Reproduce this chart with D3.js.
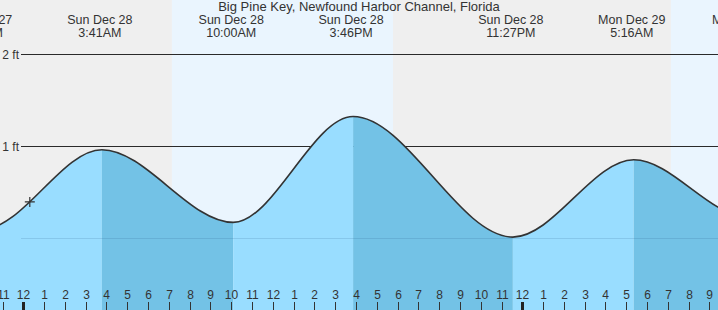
<!DOCTYPE html>
<html><head><meta charset="utf-8">
<script src="https://cdn.jsdelivr.net/npm/d3@7"></script>
<style>
html,body{margin:0;padding:0;background:#fff;}
svg{display:block;font-family:"Liberation Sans",Arial,Helvetica,sans-serif;}
</style></head>
<body><svg id="c" width="718" height="310"></svg>
<script>
// ---- data ----
const chartTitle = "Big Pine Key, Newfound Harbor Channel, Florida";
const tideTimes = ["2025-12-27T21:59","2025-12-28T03:41","2025-12-28T10:00","2025-12-28T15:46","2025-12-28T23:27","2025-12-29T05:16","2025-12-29T10:45"];
const tideHeights = [0.10, 0.96, 0.17, 1.32, 0.01, 0.85, 0.23];
const tideDateLabels = ["Sat Dec 27","Sun Dec 28","Sun Dec 28","Sun Dec 28","Sun Dec 28","Mon Dec 29","Mon Dec 29"];
const tideTimeLabels = ["9:59PM","3:41AM","10:00AM","3:46PM","11:27PM","5:16AM","10:45AM"];
const sunTimes = ["2025-12-28T07:03","2025-12-28T17:41","2025-12-29T07:03"]; // rise, set, rise
const yTickValues = [0, 1, 2];
const yTickLabels = ["0 ft","1 ft","2 ft"];
const viewStart = "2025-12-27T22:47";
const viewEnd = "2025-12-29T09:19";
const nowTime = "2025-12-28T00:13";

// ---- setup ----
const W = 718, H = 310;
const parse = d3.timeParse("%Y-%m-%dT%H:%M");
const tides = tideTimes.map((t,i)=>({t:parse(t), h:tideHeights[i], d:tideDateLabels[i], l:tideTimeLabels[i]}));
const sun = sunTimes.map(parse);
const x = d3.scaleTime().domain([parse(viewStart), parse(viewEnd)]).range([0, W]);
const y = d3.scaleLinear().domain([0, 2]).range([238, 54]);
const svg = d3.select("#c");
const textCol = "#333";

// cosine-like curve: zero slope at each extreme
class TideCurve {
  constructor(ctx){ this._context = ctx; }
  areaStart(){ this._line = 0; }
  areaEnd(){ this._line = NaN; }
  lineStart(){ this._point = 0; }
  lineEnd(){ if (this._line || (this._line !== 0 && this._point === 1)) this._context.closePath(); this._line = 1 - this._line; }
  point(px, py){
    px = +px; py = +py;
    if (this._point === 0) { this._point = 1; this._line ? this._context.lineTo(px, py) : this._context.moveTo(px, py); }
    else { this._point = 2; const dx = (px - this._x0) / 3; this._context.bezierCurveTo(this._x0 + dx, this._y0, px - dx, py, px, py); }
    this._x0 = px; this._y0 = py;
  }
}
const tideCurve = ctx => new TideCurve(ctx);

// background: night gray, day light blue
svg.append("rect").attr("x",0).attr("y",0).attr("width",W).attr("height",H).attr("fill","#efefef");
const dayBands = [[sun[0], sun[1]], [sun[2], parse(viewEnd)]];
svg.selectAll("rect.day").data(dayBands).join("rect").attr("class","day")
  .attr("x", d=>x(d[0])).attr("y",0).attr("width", d=>x(d[1])-x(d[0])).attr("height",H)
  .attr("fill","#eaf5fe");

// title
svg.append("text").attr("x", W/2).attr("y", 11).attr("text-anchor","middle")
  .attr("font-size", 13).attr("fill", textCol).text(chartTitle);

// tide labels
const lab = svg.append("g").attr("transform","translate(-2,0)");
tides.forEach(d=>{
  lab.append("text").attr("x", x(d.t)).attr("y", 24).attr("text-anchor","middle")
    .attr("font-size",12.5).attr("fill",textCol).text(d.d);
  lab.append("text").attr("x", x(d.t)).attr("y", 37).attr("text-anchor","middle")
    .attr("font-size",12.5).attr("fill",textCol).text(d.l);
});

// grid lines 1ft and 2ft
yTickValues.forEach((v,i)=>{
  svg.append("text").attr("x", 19).attr("y", y(v)+4.5).attr("text-anchor","end")
    .attr("font-size",12).attr("fill",textCol).text(yTickLabels[i]);
  if (v > 0) svg.append("line").attr("x1", 21).attr("x2", W).attr("y1", y(v)+0.5).attr("y2", y(v)+0.5)
    .attr("stroke","#2a2a2a").attr("stroke-width",1);
});

// fills: rising (light) and falling (dark) segments
const area = d3.area().x(d=>x(d.t)).y0(H).y1(d=>y(d.h)).curve(tideCurve);
for (let i = 0; i < tides.length-1; i++) {
  const rising = tides[i+1].h > tides[i].h;
  svg.append("path").datum([tides[i], tides[i+1]]).attr("d", area)
    .attr("fill", rising ? "#99ddff" : "#73c2e6");
}

// 0 ft line over fill
svg.append("line").attr("x1", 21).attr("x2", W).attr("y1", y(0)+0.5).attr("y2", y(0)+0.5)
  .attr("stroke","rgba(40,90,130,0.16)").attr("stroke-width",1);

// tide curve
const line = d3.line().x(d=>x(d.t)).y(d=>y(d.h)).curve(tideCurve);
const curvePath = svg.append("path").datum(tides).attr("d", line).attr("fill","none")
  .attr("stroke","#333").attr("stroke-width",1.6);

// current time marker, on the curve
const nx = x(parse(nowTime));
const node = curvePath.node(), len = node.getTotalLength();
let lo = 0, hi = len;
for (let k=0;k<40;k++){ const m=(lo+hi)/2; if (node.getPointAtLength(m).x < nx) lo=m; else hi=m; }
const np = node.getPointAtLength(lo);
svg.append("path").attr("d", `M${np.x-5},${np.y}H${np.x+5}M${np.x},${np.y-5}V${np.y+5}`)
  .attr("stroke","#333").attr("stroke-width",1.2);

// hour ticks
const hrs = x.ticks(d3.timeHour.every(1));
const ax = svg.append("g").attr("transform","translate(-2,0)");
hrs.forEach(t=>{
  const hx = Math.round(x(t));
  const midnight = t.getHours() === 0;
  ax.append("line").attr("x1", hx+0.5).attr("x2", hx+0.5).attr("y1", 302).attr("y2", H)
    .attr("stroke", midnight ? "#222" : "#333").attr("stroke-width", midnight ? 3 : 1);
  const h12 = t.getHours() % 12 === 0 ? 12 : t.getHours() % 12;
  ax.append("text").attr("x", hx+0.5).attr("y", 299).attr("text-anchor","middle")
    .attr("font-size",12).attr("fill",textCol).text(h12);
});
</script></body></html>
